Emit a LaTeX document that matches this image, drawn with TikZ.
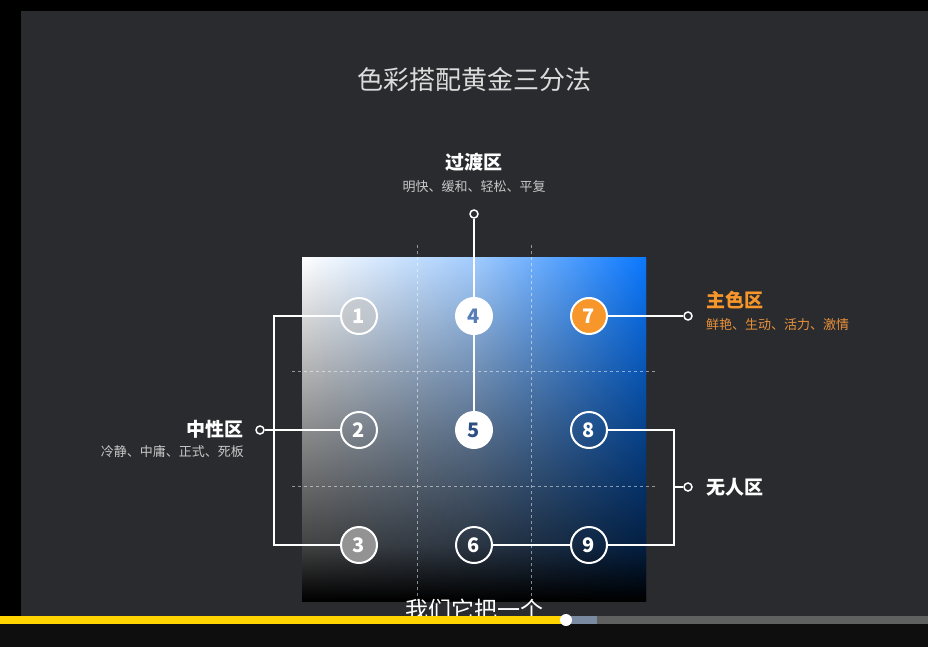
\documentclass[tikz,border=0pt]{standalone}
\usepackage{fontspec}
\newfontfamily\cjk{Noto Sans CJK SC}
\definecolor{slide}{HTML}{2A2B2F}
\definecolor{gblue}{HTML}{0A78FF}
\definecolor{gmid}{HTML}{A2CCFF}
\definecolor{orange}{HTML}{F7972B}
\definecolor{orangetxt}{HTML}{E8913A}
\definecolor{titlegray}{HTML}{DCDCDC}
\definecolor{subgray}{HTML}{C8C8C8}
\definecolor{barY}{HTML}{FFD400}
\definecolor{barB}{HTML}{7A8AA0}
\definecolor{barG}{HTML}{5F6160}
\definecolor{deep}{HTML}{0E0E0E}
\tikzset{
  num/.style={circle, draw=white, line width=2pt, minimum size=36pt, inner sep=0pt,
    font=\cjk\bfseries\fontsize{20}{20}\selectfont, text=white},
  dot/.style={circle, draw=white, line width=1.5pt, fill=slide, minimum size=8pt, inner sep=0pt},
  conn/.style={draw=white, line width=1.6pt},
  grid/.style={draw=white, draw opacity=0.5, line width=0.8pt, dash pattern=on 3pt off 3pt},
  zonetitle/.style={font=\cjk\bfseries\fontsize{19}{22}\selectfont, inner sep=0pt},
  zonesub/.style={font=\cjk\fontsize{13}{15}\selectfont, inner sep=0pt}
}
\begin{document}
\begin{tikzpicture}[x=1pt,y=-1pt]
\useasboundingbox (0,0) rectangle (928,647);
% frame
\fill[black] (0,0) rectangle (928,647);
\fill[slide] (21,11) rectangle (928,616);
\fill[deep] (0,624) rectangle (928,647);
% title
\node[font=\cjk\fontsize{26}{30}\selectfont, text=titlegray, inner sep=0pt] (title) at (474,80) {色彩搭配黄金三分法};
% gradient square
\begin{scope}
\clip (302,257) rectangle (646,601);
\foreach \i in {0,...,171}{
  \pgfmathsetmacro\t{(\i+0.5)/172}
  \pgfmathsetmacro\f{\t<0.5 ? 0.9*\t : (\t<0.84 ? 0.45+(\t-0.5)*0.29/0.34 : 0.74+(\t-0.84)*0.26/0.16)}
  \pgfmathsetmacro\p{100*(1-\f)}
  \fill[left color=white!\p!black, right color=gblue!\p!black, middle color=gmid!\p!black]
    (302,{257+2*\i}) rectangle (646,{257+2*\i+3});
}
\end{scope}
% dashed grid
\draw[grid] (417,245) -- (417,601);
\draw[grid] (531,245) -- (531,601);
\draw[grid] (292,371) -- (656,371);
\draw[grid] (292,486) -- (656,486);
% coordinates for connectors
\coordinate (lt) at (274,316);
\coordinate (lb) at (274,545);
\coordinate (rt) at (674,430);
\coordinate (rb) at (674,545);
\coordinate (rm) at (674,487);
% dots
\node[dot] (dotT) at (474,214) {};
\node[dot] (dotL) at (260,430) {};
\node[dot] (dotR) at (688,316) {};
\node[dot] (dotW) at (688,487) {};
% numbered circles
\node[num, fill=gray!45!white, fill opacity=0.55, text opacity=1] (n1) at (359,316) {1};
\node[num] (n2) at (359,430) {2};
\node[num, fill=gray!85!white] (n3) at (359,545) {3};
\node[num, fill=white, text={rgb,255:red,88;green,126;blue,184}] (n4) at (474,316) {4};
\node[num, fill=white, text={rgb,255:red,44;green,78;blue,128}] (n5) at (474,430) {5};
\node[num] (n6) at (474,545) {6};
\node[num, fill=orange] (n7) at (589,316) {7};
\node[num] (n8) at (589,430) {8};
\node[num] (n9) at (589,545) {9};
% connectors
\draw[conn] (n1) -- (lt) -- (lb) -- (n3);
\draw[conn] (n2) -- (dotL);
\draw[conn] (n4) -- (dotT);
\draw[conn] (n4) -- (n5);
\draw[conn] (n7) -- (dotR);
\draw[conn] (n8) -- (rt) -- (rb) -- (n9);
\draw[conn] (rm) -- (dotW);
\draw[conn] (n6) -- (n9);
% zone labels
\node[zonetitle, text=white] (tTop) at (474,162) {过渡区};
\node[zonesub, text=subgray] (sTop) at (474,187) {明快、缓和、轻松、平复};
\node[zonetitle, text=white, anchor=east] (tLeft) at (244,429) {中性区};
\node[zonesub, text=subgray, anchor=east] (sLeft) at (244,452) {冷静、中庸、正式、死板};
\node[zonetitle, text=orange, anchor=west] (tRight) at (706,300) {主色区};
\node[zonesub, text=orangetxt, anchor=west] (sRight) at (706,325) {鲜艳、生动、活力、激情};
\node[zonetitle, text=white, anchor=west] (tNone) at (706,487) {无人区};
% subtitle
\node[font=\cjk\fontsize{23}{26}\selectfont, text=white, anchor=base, inner sep=0pt] (caption) at (474,618) {我们它把一个};
% progress bar
\fill[barY] (0,616) rectangle (566,624);
\fill[barB] (566,616) rectangle (597,624);
\fill[barG] (597,616) rectangle (928,624);
\node[circle, fill=white, minimum size=12pt, inner sep=0pt] (knob) at (566,620) {};
\end{tikzpicture}
\end{document}
